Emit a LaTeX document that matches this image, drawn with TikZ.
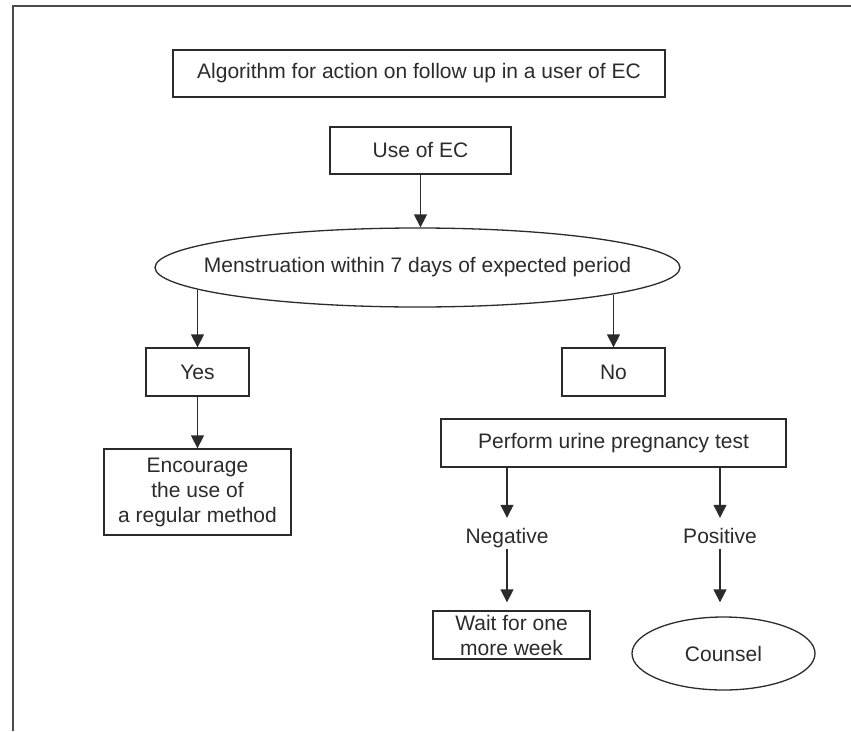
\documentclass[tikz,border=0pt]{standalone}
\usepackage{fontspec}
\setmainfont{Liberation Sans}
\usetikzlibrary{shapes.geometric,arrows.meta}
\definecolor{ink}{HTML}{2B2B2B}
\definecolor{rule}{HTML}{4A4A4A}
\tikzset{
  box/.style={draw=ink,line width=1.3pt,inner sep=0pt,align=center},
  oval/.style={ellipse,draw=ink,line width=1.3pt,inner sep=0pt},
  lbl/.style={inner sep=0pt,text height=15pt,text depth=5pt},
  arr/.style={ink,line width=1.3pt,-{Triangle[length=13pt,width=13pt]}}
}

\begin{document}
\begin{tikzpicture}[x=1pt,y=-1pt,font=\fontsize{21}{25}\selectfont,text=ink]
    \useasboundingbox (0,0) rectangle (851,731);
    \draw[rule,line width=1.6pt](13,731)--(13,6)--(851,6);
    % boxes
    \node[box,minimum width=492,minimum height=47] (title) at (419,73.5) {Algorithm for action on follow up in a user of EC};
    \node[box,minimum width=181,minimum height=47] (useec) at (420.5,150.5) {Use of EC};
    \node[oval,minimum width=525,minimum height=79] (mens) at (417.5,267.5) {\makebox[0pt]{Menstruation within 7 days of expected period}};
    \node[box,minimum width=103,minimum height=48] (yes) at (197.5,372) {Yes};
    \node[box,minimum width=103,minimum height=48] (no) at (613.5,372) {No};
    \node[box,minimum width=187,minimum height=86] (enc) at (197.5,492) {Encourage\\the use of\\a regular method};
    \node[box,minimum width=345,minimum height=48] (perf) at (613.5,443) {Perform urine pregnancy test};
    \node[lbl] (neg) at (507,538) {Negative};
    \node[lbl] (pos) at (720,538) {Positive};
    \node[box,minimum width=157,minimum height=48] (wait) at (511.5,635) {Wait for one\\more week};
    \node[oval,minimum width=183,minimum height=73] (couns) at (723.5,653.5) {Counsel};
    % arrows
    \draw[arr](useec)--(useec |- mens.north);
    \draw[arr](yes.north |- mens.186)--(yes);
    \draw[arr](no.north |- mens.352)--(no);
    \draw[arr](yes)--(enc);
    \draw[arr,shorten >=10pt](perf.south -| neg)--(neg);
    \draw[arr,shorten >=10pt](perf.south -| pos)--(pos);
    \draw[arr,shorten <=1pt,shorten >=8pt](neg)--(neg |- wait.north);
    \draw[arr,shorten <=1pt,shorten >=14pt](pos)--(pos |- couns.north);
  \end{tikzpicture}
\end{document}
